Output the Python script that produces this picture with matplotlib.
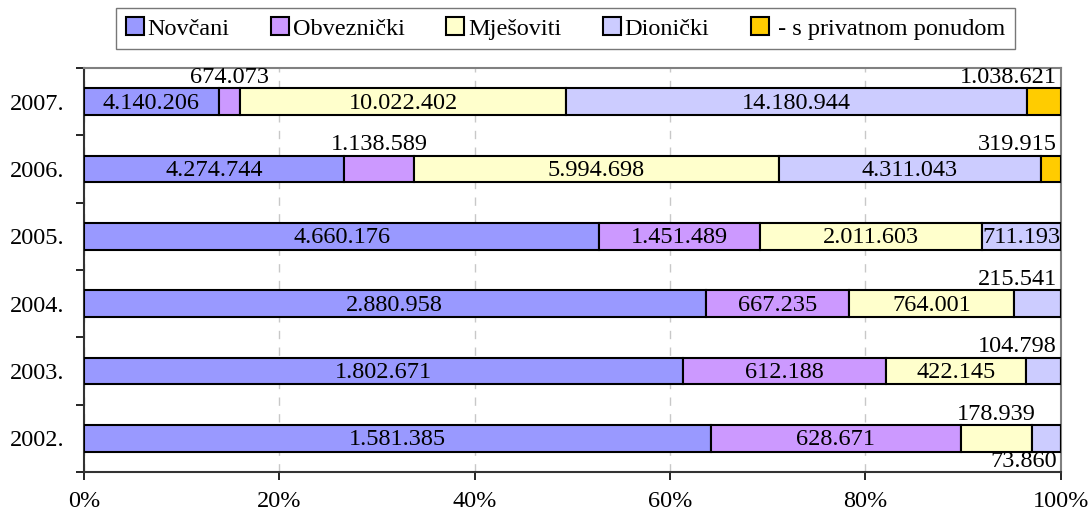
import matplotlib.pyplot as plt
import numpy as np
from matplotlib.patches import Patch

plt.rcParams['font.family'] = ['Liberation Serif', 'DejaVu Serif']

# data (bottom to top)
years = ['2002.', '2003.', '2004.', '2005.', '2006.', '2007.']
series = ['Novčani', 'Obveznički', 'Mješoviti', 'Dionički', ' - s privatnom ponudom']
novcani = [1581385, 1802671, 2880958, 4660176, 4274744, 4140206]
obveznicki = [628671, 612188, 667235, 1451489, 1138589, 674073]
mjesoviti = [178939, 422145, 764001, 2011603, 5994698, 10022402]
dionicki = [73860, 104798, 215541, 711193, 4311043, 14180944]
privatni = [0, 0, 0, 0, 319915, 1038621]

colors = ['#9999FF', '#CC99FF', '#FFFFCC', '#CCCCFF', '#FFCC00']

# where to put labels that don't fit inside the segment
# (year index, series index) -> placement
outside = {
    (5, 1): 'above', (5, 4): 'above_right',
    (4, 1): 'above', (4, 4): 'above_right',
    (2, 3): 'above_right',
    (1, 3): 'above_right',
    (0, 2): 'above', (0, 3): 'below_right',
}


def fmt(v):
    return f"{v:,}".replace(',', '.')


values = np.array([novcani, obveznicki, mjesoviti, dionicki, privatni], dtype=float)
totals = values.sum(axis=0)
pct = values / totals * 100

fig = plt.figure(figsize=(10.88, 5.17), dpi=100)
ax = fig.add_axes([0.0772, 0.087, 0.8978, 0.7815])

y = np.arange(len(years))
left = np.zeros(len(years))
fs = 17.5
for si in range(len(series)):
    ax.barh(y, pct[si], left=left, height=0.4, color=colors[si],
            edgecolor='black', linewidth=1.5, zorder=3)
    for yi in range(len(years)):
        if values[si, yi] <= 0:
            continue
        cx = left[yi] + pct[si, yi] / 2
        place = outside.get((yi, si), 'inside')
        txt = fmt(int(values[si, yi]))
        if place == 'inside':
            ax.text(cx, yi - 0.02, txt, ha='center', va='center', fontsize=fs, zorder=4)
        elif place == 'above':
            ax.annotate(txt, (cx, yi), xytext=(0, 17.5), textcoords='offset points',
                        ha='center', va='center', fontsize=fs, zorder=4)
        elif place == 'above_right':
            ax.annotate(txt, (99.6, yi), xytext=(0, 17.5), textcoords='offset points',
                        ha='right', va='center', fontsize=fs, zorder=4)
        elif place == 'below_right':
            ax.annotate(txt, (99.6, yi), xytext=(0, -16.5), textcoords='offset points',
                        ha='right', va='center', fontsize=fs, zorder=4)
    left = left + pct[si]

ax.set_xlim(0, 100)
ax.set_ylim(-0.5, len(years) - 0.5)
ax.set_xticks([0, 20, 40, 60, 80, 100])
ax.set_xticklabels(['0%', '20%', '40%', '60%', '80%', '100%'], fontsize=fs)
ax.set_yticks(y)
ax.set_yticklabels(years, fontsize=fs)
ax.set_yticks(np.arange(-0.5, len(years)), minor=True)
ax.tick_params(axis='y', which='major', length=0, pad=14)
ax.tick_params(axis='y', which='minor', length=6, width=1.2, direction='out')
ax.tick_params(axis='x', which='major', length=6, width=1.2, direction='out', pad=8)

ax.xaxis.grid(True, color='#C8C8C8', linestyle=(0, (6, 6)), linewidth=1, zorder=0)
ax.set_axisbelow(True)
for s in ['top', 'right']:
    ax.spines[s].set_color('#808080')
    ax.spines[s].set_linewidth(1.5)
for s in ['left', 'bottom']:
    ax.spines[s].set_color('#333333')
    ax.spines[s].set_linewidth(1.5)

handles = [Patch(facecolor=c, edgecolor='black', linewidth=1.5) for c in colors]
leg = fig.legend(handles, series, loc='center', bbox_to_anchor=(0.52, 0.945), ncol=5,
                 fontsize=fs, frameon=True, fancybox=False, handlelength=0.75,
                 handleheight=0.75, handletextpad=0.15, columnspacing=1.7,
                 borderpad=0.4)
leg.get_frame().set_edgecolor('#555555')
leg.get_frame().set_linewidth(1)

fig.savefig('out.png', dpi=100)
